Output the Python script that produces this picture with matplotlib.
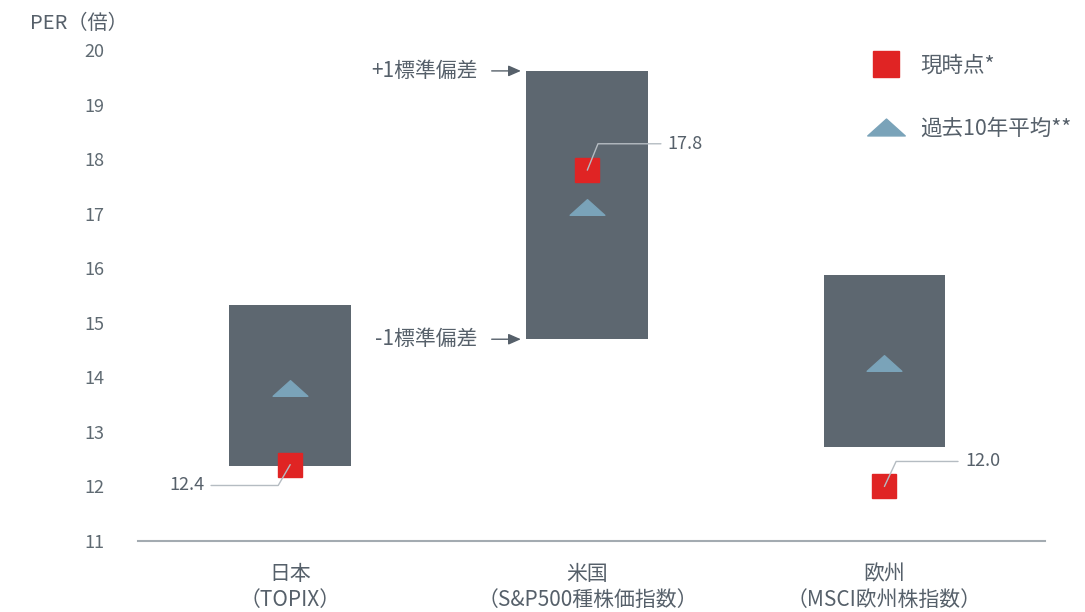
import matplotlib.pyplot as plt
from matplotlib.lines import Line2D
from matplotlib.path import Path

plt.rcParams['font.family'] = ['Noto Sans CJK JP', 'DejaVu Sans']

# データ
regions = ['日本\n（TOPIX）', '米国\n（S&P500種株価指数）', '欧州\n（MSCI欧州株指数）']
sd_low = [12.37, 14.70, 12.72]    # -1標準偏差
sd_high = [15.33, 19.62, 15.88]   # +1標準偏差
avg_10y = [13.80, 17.12, 14.27]   # 過去10年平均
current = [12.4, 17.8, 12.0]      # 現時点
yticks = [11, 12, 13, 14, 15, 16, 17, 18, 19, 20]

box_col = '#5d6770'
red = '#e02424'
tri_col = '#7aa3b9'
txt = '#56606a'

# 平たい三角形
flat_tri = Path([(-1, -0.45), (1, -0.45), (0, 0.45), (-1, -0.45)],
                [Path.MOVETO, Path.LINETO, Path.LINETO, Path.CLOSEPOLY])

fig = plt.figure(figsize=(10.85, 6.12), dpi=100)
ax = fig.add_axes([0.127, 0.116, 0.836, 0.802])

x = list(range(len(regions)))
heights = [h - l for h, l in zip(sd_high, sd_low)]
ax.bar(x, heights, bottom=sd_low, width=0.41, color=box_col, zorder=2)
ax.plot(x, avg_10y, linestyle='none', marker=flat_tri, markersize=25,
        color=tri_col, zorder=3)
ax.plot(x, current, linestyle='none', marker='s', markersize=17,
        color=red, zorder=3)

# 現時点の値ラベル
offsets = [(-62, -15, 'right', 60), (58, 19, 'left', 68), (58, 18, 'left', 65)]
for i, (dx, dy, ha, ang) in enumerate(offsets):
    ax.annotate(f'{current[i]:.1f}', xy=(x[i], current[i]), xytext=(dx, dy),
                textcoords='offset points', ha=ha, va='center', fontsize=13,
                color=txt, zorder=5,
                arrowprops=dict(arrowstyle='-', color='#b5bcc2', lw=1,
                                shrinkA=3, shrinkB=0,
                                relpos=(1 if ha == 'right' else 0, 0.5),
                                connectionstyle=f'angle,angleA=0,angleB={ang},rad=0'))

# 標準偏差の矢印
for lab, val in [('+1標準偏差', sd_high[1]), ('-1標準偏差', sd_low[1])]:
    ax.annotate(lab, xy=(x[1] - 0.205, val), xytext=(-35, 0),
                textcoords='offset points', ha='right', va='center',
                fontsize=15, color=txt,
                arrowprops=dict(arrowstyle='-|>,head_length=0.5,head_width=0.22',
                                color=txt, lw=1, shrinkA=8, shrinkB=4,
                                relpos=(1, 0.5)))

ax.set_xlim(-0.513, 2.54)
ax.set_ylim(11, 20)
ax.set_yticks(yticks)
ax.set_xticks(x)
ax.set_xticklabels(regions, fontsize=15, color=txt, linespacing=1.2)
ax.tick_params(axis='y', length=0, pad=24, labelsize=13, labelcolor='#5f6a72')
ax.tick_params(axis='x', length=0, pad=16)
for s in ['left', 'right', 'top']:
    ax.spines[s].set_visible(False)
ax.spines['bottom'].set_color('#a3abb1')
ax.spines['bottom'].set_linewidth(1.5)

fig.text(0.028, 0.962, 'PER（倍）', fontsize=14.5, color=txt, va='center')

handles = [Line2D([], [], linestyle='none', marker='s', markersize=19, color=red),
           Line2D([], [], linestyle='none', marker=flat_tri, markersize=27,
                  color=tri_col)]
ax.legend(handles, ['現時点*', '過去10年平均**'], loc='upper left',
          bbox_to_anchor=(0.7825, 0.942), bbox_transform=fig.transFigure,
          frameon=False, fontsize=15.5, labelcolor=txt, labelspacing=1.89,
          handlelength=1.6, handletextpad=0.8)

fig.savefig('out.png', dpi=100)
